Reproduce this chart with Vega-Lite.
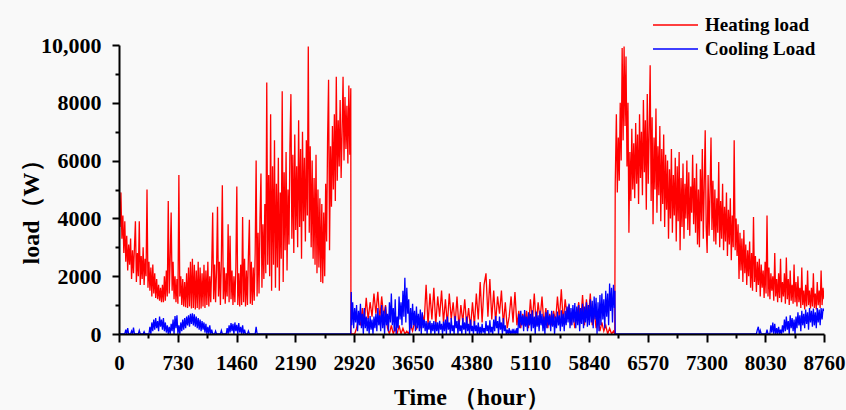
{
"$schema": "https://vega.github.io/schema/vega-lite/v6.json",
"width": 705, "height": 289,
"autosize": {"type": "none"},
"padding": {"left": 119, "top": 45, "right": 22, "bottom": 76},
"background": "#f9f9f9",
"config": {"view": {"stroke": null}, "font": "Liberation Serif"},
"datasets": {
"heat": [
{"t":0,"v":4300},{"t":12,"v":3700},{"t":24,"v":4900},{"t":36,"v":3300},{"t":48,"v":4100},{"t":60,"v":2800},{"t":72,"v":3900},{"t":84,"v":2500},{"t":96,"v":3400},{"t":108,"v":2200},{"t":120,"v":3100},{"t":132,"v":2400},{"t":144,"v":3300},{"t":156,"v":1900},{"t":168,"v":2900},{"t":180,"v":2100},{"t":192,"v":3000},{"t":204,"v":3900},{"t":216,"v":1800},{"t":228,"v":2800},{"t":240,"v":2000},{"t":252,"v":3900},{"t":264,"v":1700},{"t":276,"v":2700},{"t":288,"v":1900},{"t":300,"v":3000},{"t":312,"v":1700},{"t":324,"v":2600},{"t":336,"v":2000},{"t":348,"v":5000},{"t":360,"v":1600},
{"t":372,"v":2500},{"t":384,"v":1500},{"t":396,"v":2300},{"t":408,"v":1300},{"t":420,"v":2400},{"t":432,"v":1400},{"t":444,"v":2100},{"t":456,"v":1250},{"t":468,"v":1900},{"t":480,"v":1200},{"t":492,"v":1700},{"t":504,"v":1150},{"t":516,"v":1600},{"t":528,"v":1100},{"t":540,"v":1700},{"t":552,"v":1100},{"t":564,"v":2000},{"t":576,"v":1150},{"t":588,"v":2200},{"t":600,"v":1300},{"t":612,"v":4600},{"t":624,"v":1400},{"t":636,"v":2600},{"t":648,"v":4200},{"t":660,"v":1500},{"t":672,"v":2500},{"t":684,"v":1200},{"t":696,"v":2000},
{"t":708,"v":1100},{"t":720,"v":1900},{"t":732,"v":1050},{"t":744,"v":5500},{"t":756,"v":1300},{"t":768,"v":2000},{"t":780,"v":1000},{"t":792,"v":1900},{"t":804,"v":950},{"t":816,"v":1800},{"t":828,"v":930},
{"t":840,"v":2100},{"t":852,"v":900},{"t":864,"v":2300},{"t":876,"v":950},{"t":888,"v":2500},{"t":900,"v":880},{"t":912,"v":2600},{"t":924,"v":900},{"t":936,"v":2400},{"t":948,"v":850},{"t":960,"v":2200},{"t":972,"v":900},{"t":984,"v":2500},{"t":996,"v":850},{"t":1008,"v":2300},{"t":1020,"v":880},{"t":1032,"v":2100},{"t":1044,"v":950},{"t":1056,"v":2400},{"t":1068,"v":900},{"t":1080,"v":2200},{"t":1092,"v":1000},{"t":1104,"v":2500},{"t":1116,"v":950},{"t":1128,"v":2000},{"t":1140,"v":1100},
{"t":1152,"v":2300},{"t":1164,"v":4200},{"t":1176,"v":1200},{"t":1188,"v":2400},{"t":1200,"v":1100},{"t":1212,"v":2200},{"t":1224,"v":4400},{"t":1236,"v":1300},{"t":1248,"v":2500},{"t":1260,"v":1000},{"t":1272,"v":2600},{"t":1284,"v":5150},{"t":1296,"v":1200},{"t":1308,"v":2300},{"t":1320,"v":1050},{"t":1332,"v":2100},{"t":1344,"v":1300},{"t":1356,"v":3800},{"t":1368,"v":1100},{"t":1380,"v":3400},{"t":1392,"v":1200},{"t":1404,"v":2200},{"t":1416,"v":1000},{"t":1428,"v":2000},{"t":1440,"v":1100},{"t":1452,"v":2300},{"t":1464,"v":5100},{"t":1476,"v":1000},{"t":1488,"v":2100},
{"t":1500,"v":950},{"t":1512,"v":2400},{"t":1524,"v":1000},{"t":1536,"v":4050},{"t":1548,"v":1100},{"t":1560,"v":2600},{"t":1572,"v":950},{"t":1584,"v":2200},{"t":1596,"v":1000},{"t":1608,"v":2700},{"t":1620,"v":3950},{"t":1632,"v":1050},{"t":1644,"v":2500},{"t":1656,"v":1000},{"t":1668,"v":2300},{"t":1680,"v":1150},{"t":1692,"v":2800},
{"t":1704,"v":6000},{"t":1716,"v":1300},{"t":1728,"v":3500},{"t":1740,"v":1400},{"t":1752,"v":4000},{"t":1764,"v":5550},{"t":1776,"v":1600},{"t":1788,"v":3800},{"t":1800,"v":1900},{"t":1812,"v":4500},{"t":1824,"v":2100},{"t":1836,"v":8700},{"t":1848,"v":2400},
{"t":1860,"v":5500},{"t":1872,"v":2000},{"t":1884,"v":7600},{"t":1896,"v":1500},{"t":1908,"v":5800},{"t":1920,"v":2400},{"t":1932,"v":6700},{"t":1944,"v":1600},{"t":1956,"v":5200},{"t":1968,"v":2300},{"t":1980,"v":6100},{"t":1992,"v":1500},{"t":2004,"v":4900},{"t":2016,"v":2600},{"t":2028,"v":8400},{"t":2040,"v":1800},{"t":2052,"v":5600},{"t":2064,"v":2900},{"t":2076,"v":6300},{"t":2088,"v":2200},{"t":2100,"v":5000},{"t":2112,"v":3100},{"t":2124,"v":6500},
{"t":2136,"v":8300},{"t":2148,"v":3300},{"t":2160,"v":6200},{"t":2172,"v":2800},{"t":2184,"v":6900},{"t":2196,"v":3600},{"t":2208,"v":5800},{"t":2220,"v":3000},{"t":2232,"v":7400},{"t":2244,"v":3700},{"t":2256,"v":6400},{"t":2268,"v":2600},{"t":2280,"v":7000},{"t":2292,"v":3900},{"t":2304,"v":6100},{"t":2316,"v":3200},{"t":2328,"v":6700},{"t":2340,"v":4100},{"t":2352,"v":9950},{"t":2364,"v":3500},
{"t":2376,"v":6500},{"t":2388,"v":3000},{"t":2400,"v":6000},{"t":2412,"v":2600},{"t":2424,"v":5400},{"t":2436,"v":2400},{"t":2448,"v":6200},{"t":2460,"v":2100},{"t":2472,"v":5000},{"t":2484,"v":2300},{"t":2496,"v":4700},{"t":2508,"v":1800},{"t":2520,"v":4500},{"t":2532,"v":1760},{"t":2544,"v":4200},{"t":2556,"v":2000},
{"t":2568,"v":5200},{"t":2580,"v":3200},{"t":2592,"v":6800},{"t":2604,"v":8800},{"t":2616,"v":2900},{"t":2628,"v":6500},{"t":2640,"v":4400},{"t":2652,"v":7200},{"t":2664,"v":5000},{"t":2676,"v":7600},{"t":2688,"v":4600},{"t":2700,"v":8900},{"t":2712,"v":5300},{"t":2724,"v":7400},{"t":2736,"v":5800},{"t":2748,"v":8100},{"t":2760,"v":5400},{"t":2772,"v":7000},{"t":2784,"v":8900},{"t":2796,"v":6000},{"t":2808,"v":8200},{"t":2820,"v":6400},{"t":2832,"v":7900},{"t":2844,"v":5900},{"t":2856,"v":8600},{"t":2868,"v":6200},{"t":2880,"v":8500},{"t":2882,"v":0},
{"t":2904,"v":0},{"t":2928,"v":0},{"t":2952,"v":200},{"t":2976,"v":500},{"t":3000,"v":300},{"t":3024,"v":900},{"t":3048,"v":400},{"t":3072,"v":1250},{"t":3096,"v":500},{"t":3120,"v":1100},{"t":3144,"v":600},{"t":3168,"v":1400},{"t":3192,"v":700},{"t":3216,"v":1460},{"t":3240,"v":500},{"t":3264,"v":1300},{"t":3288,"v":600},{"t":3312,"v":1000},{"t":3336,"v":200},{"t":3360,"v":0},{"t":3384,"v":300},{"t":3408,"v":0},{"t":3432,"v":200},{"t":3456,"v":0},{"t":3480,"v":300},{"t":3504,"v":0},{"t":3528,"v":200},{"t":3552,"v":0},{"t":3576,"v":100},{"t":3600,"v":0},{"t":3624,"v":300},{"t":3648,"v":100},{"t":3672,"v":400},{"t":3696,"v":150},{"t":3720,"v":500},{"t":3744,"v":200},{"t":3768,"v":700},{"t":3792,"v":400},{"t":3816,"v":1700},{"t":3840,"v":300},{"t":3864,"v":1400},{"t":3888,"v":500},{"t":3912,"v":1600},{"t":3936,"v":300},{"t":3960,"v":1300},{"t":3984,"v":600},{"t":4008,"v":1500},{"t":4032,"v":400},{"t":4056,"v":1200},{"t":4080,"v":300},{"t":4104,"v":1400},{"t":4128,"v":500},{"t":4152,"v":1100},{"t":4176,"v":300},{"t":4200,"v":1300},{"t":4224,"v":200},{"t":4248,"v":1000},{"t":4272,"v":400},{"t":4296,"v":1200},{"t":4320,"v":300},{"t":4344,"v":900},{"t":4368,"v":200},{"t":4392,"v":1100},{"t":4416,"v":300},{"t":4440,"v":1400},{"t":4464,"v":500},{"t":4488,"v":1800},{"t":4512,"v":400},{"t":4536,"v":1700},{"t":4560,"v":2100},{"t":4584,"v":600},{"t":4608,"v":1900},{"t":4632,"v":500},{"t":4656,"v":1500},{"t":4680,"v":400},{"t":4704,"v":1300},{"t":4728,"v":700},{"t":4752,"v":1500},{"t":4776,"v":300},{"t":4800,"v":1100},{"t":4824,"v":200},{"t":4848,"v":600},{"t":4872,"v":1300},{"t":4896,"v":400},{"t":4920,"v":1450},{"t":4944,"v":300},{"t":4968,"v":800},{"t":4992,"v":200},{"t":5016,"v":700},{"t":5040,"v":300},{"t":5064,"v":800},{"t":5088,"v":200},{"t":5112,"v":1200},{"t":5136,"v":400},{"t":5160,"v":1400},{"t":5184,"v":300},{"t":5208,"v":1100},{"t":5232,"v":500},{"t":5256,"v":1300},{"t":5280,"v":300},{"t":5304,"v":900},{"t":5328,"v":200},{"t":5352,"v":700},{"t":5376,"v":300},{"t":5400,"v":800},{"t":5424,"v":400},{"t":5448,"v":1300},{"t":5472,"v":500},{"t":5496,"v":1550},{"t":5520,"v":400},{"t":5544,"v":1200},{"t":5568,"v":600},{"t":5592,"v":1000},{"t":5616,"v":300},{"t":5640,"v":700},{"t":5664,"v":200},{"t":5688,"v":600},{"t":5712,"v":1100},{"t":5736,"v":400},{"t":5760,"v":1350},{"t":5784,"v":300},{"t":5808,"v":1200},{"t":5832,"v":500},{"t":5856,"v":1400},{"t":5880,"v":300},{"t":5904,"v":800},{"t":5928,"v":200},{"t":5952,"v":600},{"t":5976,"v":100},{"t":6000,"v":400},{"t":6024,"v":100},{"t":6048,"v":300},{"t":6072,"v":0},{"t":6096,"v":200},{"t":6120,"v":0},{"t":6144,"v":100},{"t":6160,"v":0},
{"t":6166,"v":5200},{"t":6180,"v":7600},{"t":6192,"v":4900},{"t":6204,"v":6800},{"t":6216,"v":5300},{"t":6228,"v":8000},{"t":6240,"v":6000},{"t":6252,"v":9900},{"t":6264,"v":6700},{"t":6276,"v":9950},{"t":6288,"v":7200},{"t":6300,"v":9600},{"t":6312,"v":5800},{"t":6324,"v":8000},{"t":6336,"v":3500},{"t":6348,"v":6300},{"t":6360,"v":4600},{"t":6372,"v":7100},{"t":6384,"v":5000},{"t":6396,"v":6600},{"t":6408,"v":4700},{"t":6420,"v":7300},{"t":6432,"v":5200},{"t":6444,"v":6900},{"t":6456,"v":4500},{"t":6468,"v":7600},{"t":6480,"v":5400},{"t":6492,"v":7000},{"t":6504,"v":4800},{"t":6516,"v":8100},{"t":6528,"v":5600},{"t":6540,"v":7400},{"t":6552,"v":4300},{"t":6564,"v":8300},{"t":6576,"v":5200},{"t":6588,"v":7000},{"t":6600,"v":9300},{"t":6612,"v":4600},{"t":6624,"v":7500},{"t":6636,"v":3800},{"t":6648,"v":6800},{"t":6660,"v":5000},{"t":6672,"v":7800},{"t":6684,"v":4200},{"t":6696,"v":6500},{"t":6708,"v":4800},{"t":6720,"v":7200},{"t":6732,"v":3900},{"t":6744,"v":6400},{"t":6756,"v":4500},{"t":6768,"v":6900},{"t":6780,"v":3700},{"t":6792,"v":6200},{"t":6804,"v":4300},{"t":6816,"v":6000},{"t":6828,"v":3300},{"t":6840,"v":5700},{"t":6852,"v":4000},{"t":6864,"v":6400},{"t":6876,"v":3500},{"t":6888,"v":5500},{"t":6900,"v":4100},{"t":6912,"v":6100},{"t":6924,"v":3200},{"t":6936,"v":5800},{"t":6948,"v":3900},{"t":6960,"v":6300},{"t":6972,"v":2900},{"t":6984,"v":5400},{"t":6996,"v":3700},{"t":7008,"v":5900},{"t":7020,"v":3300},{"t":7032,"v":5200},{"t":7044,"v":4000},{"t":7056,"v":6000},
{"t":7068,"v":3600},{"t":7080,"v":5600},{"t":7092,"v":3400},{"t":7104,"v":5100},{"t":7116,"v":4200},{"t":7128,"v":6200},{"t":7140,"v":3800},{"t":7152,"v":5400},{"t":7164,"v":3500},{"t":7176,"v":5900},{"t":7188,"v":3100},{"t":7200,"v":5000},{"t":7212,"v":3000},{"t":7224,"v":5700},{"t":7236,"v":3900},{"t":7248,"v":6400},{"t":7260,"v":3300},{"t":7272,"v":5200},{"t":7284,"v":7050},{"t":7296,"v":3700},{"t":7308,"v":2800},{"t":7320,"v":5500},{"t":7332,"v":3400},{"t":7344,"v":4900},{"t":7356,"v":6800},{"t":7368,"v":3600},{"t":7380,"v":5300},{"t":7392,"v":3200},
{"t":7404,"v":5000},{"t":7416,"v":3100},{"t":7428,"v":4700},{"t":7440,"v":3500},{"t":7452,"v":5950},{"t":7464,"v":3000},{"t":7476,"v":4600},{"t":7488,"v":3300},{"t":7500,"v":5200},{"t":7512,"v":2900},{"t":7524,"v":4400},{"t":7536,"v":3200},{"t":7548,"v":4900},{"t":7560,"v":2700},{"t":7572,"v":4300},{"t":7584,"v":3100},{"t":7596,"v":4700},{"t":7608,"v":2550},{"t":7620,"v":4100},{"t":7632,"v":3000},{"t":7644,"v":6700},{"t":7656,"v":2900},{"t":7668,"v":4000},{"t":7680,"v":2700},{"t":7692,"v":3800},
{"t":7704,"v":1900},{"t":7716,"v":3500},{"t":7728,"v":2200},{"t":7740,"v":3300},{"t":7752,"v":1800},{"t":7764,"v":3600},{"t":7776,"v":2100},{"t":7788,"v":3100},{"t":7800,"v":1700},{"t":7812,"v":2900},{"t":7824,"v":2000},{"t":7836,"v":3200},{"t":7848,"v":1600},{"t":7860,"v":2800},{"t":7872,"v":1500},{"t":7884,"v":4050},{"t":7896,"v":1800},{"t":7908,"v":2700},{"t":7920,"v":1450},{"t":7932,"v":2500},{"t":7944,"v":1700},
{"t":7956,"v":2600},{"t":7968,"v":1300},{"t":7980,"v":2400},{"t":7992,"v":1600},{"t":8004,"v":2200},{"t":8016,"v":1250},{"t":8028,"v":2500},{"t":8040,"v":1400},{"t":8052,"v":4100},{"t":8064,"v":1300},{"t":8076,"v":2300},{"t":8088,"v":1200},{"t":8100,"v":2100},{"t":8112,"v":1500},
{"t":8124,"v":2000},{"t":8136,"v":1150},{"t":8148,"v":2800},{"t":8160,"v":1300},{"t":8172,"v":1900},{"t":8184,"v":1100},{"t":8196,"v":2100},{"t":8208,"v":1250},{"t":8220,"v":2600},{"t":8232,"v":1100},{"t":8244,"v":1800},{"t":8256,"v":1300},{"t":8268,"v":2100},{"t":8280,"v":1050},{"t":8292,"v":2650},{"t":8304,"v":1200},{"t":8316,"v":1900},{"t":8328,"v":1000},{"t":8340,"v":2200},{"t":8352,"v":1150},{"t":8364,"v":1700},{"t":8376,"v":1050},{"t":8388,"v":2400},{"t":8400,"v":1100},{"t":8412,"v":1800},{"t":8424,"v":950},{"t":8436,"v":2000},{"t":8448,"v":1100},
{"t":8460,"v":1600},{"t":8472,"v":900},{"t":8484,"v":2300},{"t":8496,"v":1000},{"t":8508,"v":1500},{"t":8520,"v":850},{"t":8532,"v":1700},{"t":8544,"v":950},{"t":8556,"v":2200},{"t":8568,"v":1000},{"t":8580,"v":1500},{"t":8592,"v":880},{"t":8604,"v":1600},{"t":8616,"v":950},{"t":8628,"v":2100},{"t":8640,"v":900},{"t":8652,"v":1400},{"t":8664,"v":850},{"t":8676,"v":1800},{"t":8688,"v":1000},{"t":8700,"v":1500},{"t":8712,"v":900},{"t":8724,"v":2200},{"t":8736,"v":1000},{"t":8748,"v":1600},{"t":8760,"v":1200}
],
"cool": [
{"t":0,"v":0},{"t":72,"v":0},{"t":84,"v":150},{"t":96,"v":0},{"t":108,"v":200},{"t":120,"v":0},{"t":144,"v":0},{"t":156,"v":100},{"t":168,"v":0},{"t":180,"v":220},{"t":192,"v":0},{"t":240,"v":0},{"t":252,"v":120},{"t":264,"v":0},{"t":300,"v":0},{"t":312,"v":80},{"t":324,"v":0},{"t":372,"v":0},{"t":384,"v":250},{"t":396,"v":0},{"t":408,"v":400},{"t":420,"v":100},{"t":432,"v":500},{"t":444,"v":150},{"t":456,"v":550},{"t":468,"v":200},{"t":480,"v":450},{"t":492,"v":100},{"t":504,"v":600},{"t":516,"v":250},{"t":528,"v":500},{"t":540,"v":150},{"t":552,"v":550},{"t":564,"v":100},{"t":576,"v":400},{"t":588,"v":50},{"t":600,"v":300},{"t":612,"v":0},{"t":624,"v":250},{"t":636,"v":0},{"t":648,"v":350},{"t":660,"v":100},{"t":672,"v":500},{"t":684,"v":0},{"t":696,"v":620},{"t":708,"v":200},{"t":720,"v":650},{"t":732,"v":0},{"t":744,"v":300},{"t":756,"v":0},{"t":768,"v":400},{"t":780,"v":100},{"t":792,"v":500},{"t":804,"v":150},{"t":816,"v":550},{"t":828,"v":200},{"t":840,"v":600},{"t":852,"v":300},{"t":864,"v":650},{"t":876,"v":250},{"t":888,"v":700},{"t":900,"v":350},{"t":912,"v":720},{"t":924,"v":300},{"t":936,"v":680},{"t":948,"v":250},{"t":960,"v":600},{"t":972,"v":200},{"t":984,"v":550},{"t":996,"v":150},{"t":1008,"v":500},{"t":1020,"v":100},{"t":1032,"v":450},{"t":1044,"v":150},{"t":1056,"v":400},{"t":1068,"v":50},{"t":1080,"v":350},{"t":1092,"v":0},{"t":1104,"v":250},{"t":1116,"v":0},{"t":1128,"v":300},{"t":1140,"v":0},{"t":1152,"v":150},{"t":1164,"v":0},{"t":1188,"v":0},{"t":1200,"v":100},{"t":1212,"v":0},{"t":1260,"v":0},{"t":1272,"v":120},{"t":1284,"v":0},{"t":1332,"v":0},{"t":1344,"v":200},{"t":1356,"v":0},{"t":1368,"v":300},{"t":1380,"v":50},{"t":1392,"v":380},{"t":1404,"v":100},{"t":1416,"v":350},{"t":1428,"v":0},{"t":1440,"v":400},{"t":1452,"v":100},{"t":1464,"v":320},{"t":1476,"v":0},{"t":1488,"v":380},{"t":1500,"v":50},{"t":1512,"v":250},{"t":1524,"v":0},{"t":1536,"v":300},{"t":1548,"v":0},{"t":1560,"v":150},{"t":1572,"v":0},{"t":1596,"v":0},{"t":1608,"v":100},{"t":1620,"v":0},{"t":1692,"v":0},{"t":1704,"v":250},{"t":1716,"v":0},{"t":2880,"v":0},
{"t":2886,"v":1450},{"t":2892,"v":300},{"t":2904,"v":1100},{"t":2916,"v":200},{"t":2928,"v":900},{"t":2940,"v":400},{"t":2952,"v":1000},{"t":2964,"v":100},{"t":2976,"v":800},{"t":2988,"v":300},{"t":3000,"v":1050},{"t":3012,"v":200},{"t":3024,"v":700},{"t":3036,"v":0},{"t":3048,"v":900},{"t":3060,"v":200},{"t":3072,"v":600},{"t":3084,"v":100},{"t":3096,"v":550},{"t":3108,"v":0},{"t":3120,"v":620},{"t":3132,"v":150},{"t":3144,"v":500},{"t":3156,"v":0},{"t":3168,"v":600},{"t":3180,"v":200},{"t":3192,"v":700},{"t":3204,"v":100},{"t":3216,"v":900},{"t":3228,"v":300},{"t":3240,"v":650},{"t":3252,"v":100},{"t":3264,"v":1000},{"t":3276,"v":200},{"t":3288,"v":800},{"t":3300,"v":0},{"t":3312,"v":950},{"t":3324,"v":300},{"t":3336,"v":700},{"t":3348,"v":100},{"t":3360,"v":1100},{"t":3372,"v":400},{"t":3384,"v":1400},{"t":3396,"v":300},{"t":3408,"v":900},{"t":3420,"v":100},{"t":3432,"v":1200},{"t":3444,"v":0},{"t":3456,"v":600},{"t":3468,"v":200},{"t":3480,"v":1300},{"t":3492,"v":500},{"t":3504,"v":1100},{"t":3516,"v":300},{"t":3528,"v":1500},{"t":3540,"v":600},{"t":3552,"v":1950},{"t":3564,"v":400},{"t":3576,"v":1600},{"t":3588,"v":700},{"t":3600,"v":1200},{"t":3612,"v":0},{"t":3624,"v":900},{"t":3636,"v":200},{"t":3648,"v":1050},{"t":3660,"v":300},{"t":3672,"v":800},{"t":3684,"v":100},{"t":3696,"v":950},{"t":3708,"v":200},{"t":3720,"v":700},{"t":3732,"v":100},{"t":3744,"v":850},{"t":3756,"v":0},{"t":3768,"v":750},{"t":3780,"v":200},{"t":3792,"v":500},{"t":3804,"v":100},{"t":3816,"v":450},{"t":3828,"v":0},{"t":3840,"v":400},{"t":3852,"v":150},{"t":3864,"v":460},{"t":3876,"v":0},{"t":3888,"v":380},{"t":3900,"v":100},{"t":3912,"v":450},{"t":3924,"v":0},{"t":3936,"v":420},{"t":3948,"v":100},{"t":3960,"v":400},{"t":3972,"v":0},{"t":3984,"v":460},{"t":3996,"v":150},{"t":4008,"v":350},{"t":4020,"v":0},{"t":4032,"v":430},{"t":4044,"v":100},{"t":4056,"v":500},{"t":4068,"v":0},{"t":4080,"v":600},{"t":4092,"v":150},{"t":4104,"v":400},{"t":4116,"v":0},{"t":4128,"v":550},{"t":4140,"v":100},{"t":4152,"v":300},{"t":4164,"v":0},{"t":4176,"v":620},{"t":4188,"v":200},{"t":4200,"v":450},{"t":4212,"v":0},{"t":4224,"v":500},{"t":4236,"v":100},{"t":4248,"v":300},{"t":4260,"v":0},{"t":4272,"v":550},{"t":4284,"v":150},{"t":4296,"v":400},{"t":4308,"v":0},{"t":4320,"v":600},{"t":4332,"v":100},{"t":4344,"v":350},{"t":4356,"v":0},{"t":4368,"v":500},{"t":4380,"v":100},{"t":4392,"v":280},{"t":4404,"v":0},{"t":4416,"v":450},{"t":4428,"v":100},{"t":4440,"v":300},{"t":4452,"v":0},{"t":4464,"v":400},{"t":4476,"v":0},{"t":4488,"v":250},{"t":4500,"v":0},{"t":4512,"v":350},{"t":4524,"v":50},{"t":4536,"v":200},{"t":4548,"v":0},{"t":4560,"v":450},{"t":4572,"v":100},{"t":4584,"v":300},{"t":4596,"v":0},{"t":4608,"v":470},{"t":4620,"v":50},{"t":4632,"v":250},{"t":4644,"v":0},{"t":4656,"v":500},{"t":4668,"v":100},{"t":4680,"v":620},{"t":4692,"v":200},{"t":4704,"v":450},{"t":4716,"v":0},{"t":4728,"v":600},{"t":4740,"v":150},{"t":4752,"v":400},{"t":4764,"v":0},{"t":4776,"v":550},{"t":4788,"v":100},{"t":4800,"v":300},{"t":4812,"v":0},{"t":4824,"v":150},{"t":4836,"v":0},{"t":4848,"v":200},{"t":4860,"v":0},{"t":4872,"v":100},{"t":4884,"v":0},{"t":4896,"v":180},{"t":4908,"v":0},{"t":4920,"v":120},{"t":4932,"v":0},{"t":4944,"v":200},{"t":4956,"v":0},{"t":4968,"v":700},{"t":4980,"v":200},{"t":4992,"v":800},{"t":5004,"v":300},{"t":5016,"v":650},{"t":5028,"v":100},{"t":5040,"v":830},{"t":5052,"v":250},{"t":5064,"v":600},{"t":5076,"v":100},{"t":5088,"v":750},{"t":5100,"v":300},{"t":5112,"v":700},{"t":5124,"v":100},{"t":5136,"v":820},{"t":5148,"v":200},{"t":5160,"v":600},{"t":5172,"v":0},{"t":5184,"v":780},{"t":5196,"v":250},{"t":5208,"v":650},{"t":5220,"v":100},{"t":5232,"v":800},{"t":5244,"v":300},{"t":5256,"v":700},{"t":5268,"v":100},{"t":5280,"v":600},{"t":5292,"v":0},{"t":5304,"v":750},{"t":5316,"v":200},{"t":5328,"v":830},{"t":5340,"v":300},{"t":5352,"v":650},{"t":5364,"v":100},{"t":5376,"v":800},{"t":5388,"v":250},{"t":5400,"v":700},{"t":5412,"v":0},{"t":5424,"v":600},{"t":5436,"v":200},{"t":5448,"v":780},{"t":5460,"v":300},{"t":5472,"v":650},{"t":5484,"v":100},{"t":5496,"v":820},{"t":5508,"v":250},{"t":5520,"v":700},{"t":5532,"v":100},{"t":5544,"v":800},{"t":5556,"v":300},{"t":5568,"v":950},{"t":5580,"v":400},{"t":5592,"v":1050},{"t":5604,"v":200},{"t":5616,"v":900},{"t":5628,"v":300},{"t":5640,"v":1000},{"t":5652,"v":400},{"t":5664,"v":1070},{"t":5676,"v":200},{"t":5688,"v":950},{"t":5700,"v":300},{"t":5712,"v":1000},{"t":5724,"v":100},{"t":5736,"v":900},{"t":5748,"v":350},{"t":5760,"v":1050},{"t":5772,"v":200},{"t":5784,"v":950},{"t":5796,"v":400},{"t":5808,"v":1100},{"t":5820,"v":250},{"t":5832,"v":1000},{"t":5844,"v":300},{"t":5856,"v":1200},{"t":5868,"v":400},{"t":5880,"v":1150},{"t":5892,"v":200},{"t":5904,"v":1300},{"t":5916,"v":500},{"t":5928,"v":1250},{"t":5940,"v":0},{"t":5952,"v":1100},{"t":5964,"v":100},{"t":5976,"v":1350},{"t":5988,"v":300},{"t":6000,"v":1400},{"t":6012,"v":500},{"t":6024,"v":1200},{"t":6036,"v":200},{"t":6048,"v":1500},{"t":6060,"v":600},{"t":6072,"v":1400},{"t":6084,"v":300},{"t":6096,"v":1750},{"t":6108,"v":800},{"t":6120,"v":1600},{"t":6132,"v":400},{"t":6144,"v":1700},{"t":6156,"v":900},{"t":6162,"v":1500},{"t":6166,"v":0},{"t":7900,"v":0},
{"t":7920,"v":0},{"t":7932,"v":150},{"t":7944,"v":250},{"t":7956,"v":0},{"t":7968,"v":120},{"t":7980,"v":0},{"t":8040,"v":0},{"t":8052,"v":150},{"t":8064,"v":0},{"t":8088,"v":0},{"t":8100,"v":300},{"t":8112,"v":50},{"t":8124,"v":400},{"t":8136,"v":0},{"t":8148,"v":350},{"t":8160,"v":0},{"t":8172,"v":200},{"t":8184,"v":0},{"t":8196,"v":250},{"t":8208,"v":0},{"t":8220,"v":150},{"t":8232,"v":0},{"t":8244,"v":300},{"t":8256,"v":50},{"t":8268,"v":500},{"t":8280,"v":100},{"t":8292,"v":600},{"t":8304,"v":150},{"t":8316,"v":450},{"t":8328,"v":0},{"t":8340,"v":650},{"t":8352,"v":200},{"t":8364,"v":550},{"t":8376,"v":100},{"t":8388,"v":500},{"t":8400,"v":0},{"t":8412,"v":600},{"t":8424,"v":200},{"t":8436,"v":750},{"t":8448,"v":300},{"t":8460,"v":650},{"t":8472,"v":100},{"t":8484,"v":800},{"t":8496,"v":300},{"t":8508,"v":700},{"t":8520,"v":200},{"t":8532,"v":850},{"t":8544,"v":350},{"t":8556,"v":750},{"t":8568,"v":150},{"t":8580,"v":900},{"t":8592,"v":400},{"t":8604,"v":800},{"t":8616,"v":250},{"t":8628,"v":880},{"t":8640,"v":300},{"t":8652,"v":750},{"t":8664,"v":200},{"t":8676,"v":900},{"t":8688,"v":400},{"t":8700,"v":850},{"t":8712,"v":300},{"t":8724,"v":900},{"t":8736,"v":500},{"t":8748,"v":880},{"t":8760,"v":800}
]
},
"encoding": {
  "x": {"field": "t", "type": "quantitative",
    "scale": {"domain": [0, 8760], "nice": false, "zero": false},
    "axis": {"title": "Time （hour）", "values": [0,365,730,1095,1460,1825,2190,2555,2920,3285,3650,4015,4380,4745,5110,5475,5840,6205,6570,6935,7300,7665,8030,8395,8760],
      "format": "d", "labelExpr": "datum.value % 730 === 0 ? datum.label : ''",
      "grid": false, "zindex": 1, "domainColor": "#000", "domainWidth": 2, "tickColor": "#000", "tickWidth": 2,
      "tickSize": {"expr": "datum.value % 730 === 0 ? 8 : 4"},
      "labelFont": "Liberation Serif", "labelFontWeight": "bold", "labelFontSize": 21, "labelColor": "#000", "labelPadding": 10,
      "labelFlush": false, "labelOverlap": false, "labelBound": false,
      "titleFont": "Liberation Serif", "titleFontWeight": "bold", "titleFontSize": 24, "titleColor": "#000",
      "titleBaseline": "alphabetic", "titleY": 70}},
  "y": {"field": "v", "type": "quantitative",
    "scale": {"domain": [0, 10000], "nice": false},
    "axis": {"title": "load（W）", "values": [0,1000,2000,3000,4000,5000,6000,7000,8000,9000,10000],
      "format": "d", "labelExpr": "datum.value === 10000 ? '10,000' : (datum.value % 2000 === 0 ? datum.label : '')",
      "grid": false, "zindex": 1, "domainColor": "#000", "domainWidth": 2, "tickColor": "#000", "tickWidth": 2,
      "tickSize": {"expr": "datum.value % 2000 === 0 ? 7 : 4"},
      "labelFont": "Liberation Serif", "labelFontWeight": "bold", "labelFontSize": 22, "labelColor": "#000", "labelPadding": 11,
      "labelOverlap": false, "labelBound": false, "labelFlush": false,
      "titleFont": "Liberation Serif", "titleFontWeight": "bold", "titleFontSize": 24, "titleColor": "#000",
      "titleBaseline": "middle", "titleX": -88, "titleY": 161, "titleAngle": -90}}
},
"layer": [
  {"data": {"name": "heat"}, "mark": {"type": "line", "strokeWidth": 1.3, "clip": true},
   "encoding": {"color": {"datum": "Heating load", "type": "nominal",
     "scale": {"domain": ["Heating load", "Cooling Load"], "range": ["#ff0000", "#0000ff"]},
     "legend": {"title": null, "orient": "none", "legendX": 533, "legendY": -31, "symbolType": "stroke", "symbolSize": 2025, "symbolStrokeWidth": 1.5,
       "labelFont": "Liberation Serif", "labelFontWeight": "bold", "labelFontSize": 19, "labelColor": "#000", "labelOffset": 6,
       "clipHeight": 22, "rowPadding": 2, "padding": 0}}}},
  {"data": {"name": "cool"}, "mark": {"type": "line", "strokeWidth": 1.3, "clip": true},
   "encoding": {"color": {"datum": "Cooling Load", "type": "nominal"}}}
]
}
